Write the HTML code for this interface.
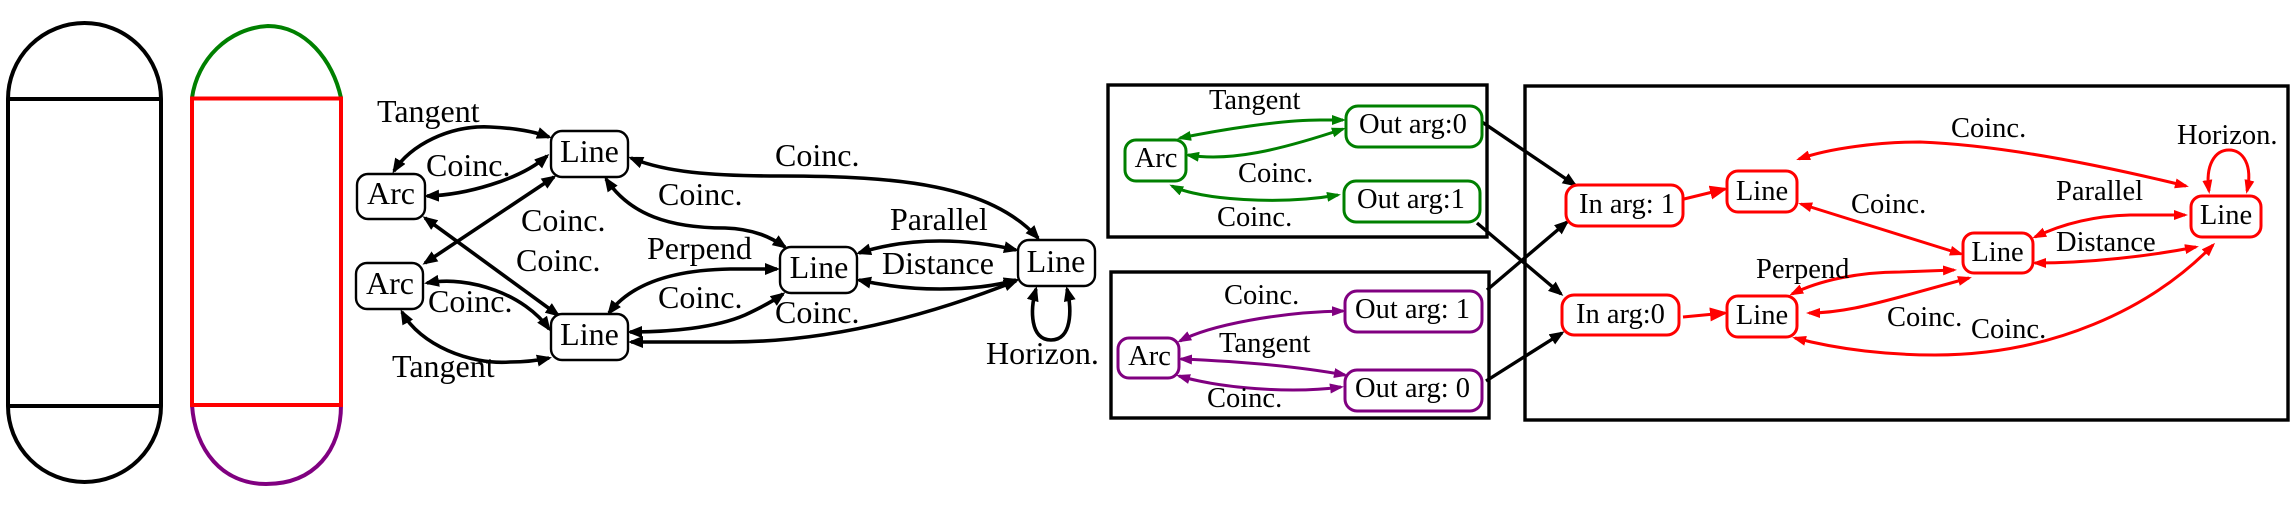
<!DOCTYPE html>
<html>
<head>
<meta charset="utf-8">
<style>
html,body{margin:0;padding:0;background:#fff;width:2292px;height:506px;overflow:hidden}
svg{display:block;filter:blur(.35px)}
text{font-family:"Liberation Serif",serif;fill:#000}
.a{font-size:32px}
.b{font-size:28.5px}
.m{text-anchor:middle}
.e{fill:none;stroke-width:3.6}
.f{fill:none;stroke-width:3}
</style>
</head>
<body>
<svg width="2292" height="506" viewBox="0 0 2292 506" xmlns="http://www.w3.org/2000/svg">
<defs>
<marker id="k" markerUnits="userSpaceOnUse" markerWidth="18" markerHeight="14" refX="12" refY="6" orient="auto-start-reverse"><path d="M0,0L15,6L0,12z" fill="#000"/></marker>
<marker id="g" markerUnits="userSpaceOnUse" markerWidth="18" markerHeight="14" refX="11" refY="5" orient="auto-start-reverse"><path d="M0,0L14,5L0,10z" fill="#008000"/></marker>
<marker id="p" markerUnits="userSpaceOnUse" markerWidth="18" markerHeight="14" refX="11" refY="5" orient="auto-start-reverse"><path d="M0,0L14,5L0,10z" fill="#800080"/></marker>
<marker id="r" markerUnits="userSpaceOnUse" markerWidth="18" markerHeight="14" refX="11" refY="5" orient="auto-start-reverse"><path d="M0,0L14,5L0,10z" fill="#f00"/></marker>
<marker id="R" markerUnits="userSpaceOnUse" markerWidth="22" markerHeight="16" refX="15" refY="7" orient="auto-start-reverse"><path d="M0,0L18,7L0,14z" fill="#f00"/></marker>
</defs>

<!-- capsules -->
<g fill="none" stroke="#000" stroke-width="4">
<path d="M8,99A76.5,76 0 0 1 161,99V406A76.5,76 0 0 1 8,406Z"/>
<path d="M8,99H161M8,406H161"/>
</g>
<path d="M192,98C197,60 228,28 268,26C305,26 333,60 341,98" fill="none" stroke="#008000" stroke-width="4"/>
<path d="M192,405C195,450 222,484 266,484C315,484 341,450 341,405" fill="none" stroke="#800080" stroke-width="4"/>
<rect x="192" y="98.5" width="149" height="306.5" fill="none" stroke="#f00" stroke-width="4"/>

<!-- left graph edges -->
<g stroke="#000">
<path class="e" d="M394,171C410,145 450,125 490,127C515,128 535,132 549,137" marker-start="url(#k)" marker-end="url(#k)"/>
<path class="e" d="M427,196C465,195 520,180 547,156" marker-start="url(#k)" marker-end="url(#k)"/>
<path class="e" d="M554,177L425,263" marker-start="url(#k)" marker-end="url(#k)"/>
<path class="e" d="M425,218L558,315" marker-start="url(#k)" marker-end="url(#k)"/>
<path class="e" d="M427,283C470,275 525,295 549,329" marker-start="url(#k)" marker-end="url(#k)"/>
<path class="e" d="M402,312C420,345 470,365 510,362C525,362 540,360 549,358" marker-start="url(#k)" marker-end="url(#k)"/>
<path class="e" d="M631,158C665,172 710,176 780,176C900,176 990,185 1038,238" marker-start="url(#k)" marker-end="url(#k)"/>
<path class="e" d="M606,179C630,215 670,228 725,228C755,229 772,238 785,247" marker-start="url(#k)" marker-end="url(#k)"/>
<path class="e" d="M609,313C630,285 670,270 730,269L777,269" marker-start="url(#k)" marker-end="url(#k)"/>
<path class="e" d="M630,332C670,332 715,328 745,315C760,308 772,302 783,294" marker-start="url(#k)" marker-end="url(#k)"/>
<path class="e" d="M631,342L730,342C830,342 930,315 1016,281" marker-start="url(#k)" marker-end="url(#k)"/>
<path class="e" d="M859,253C890,243 920,241 940,241C970,241 995,245 1016,250" marker-start="url(#k)" marker-end="url(#k)"/>
<path class="e" d="M859,280C890,287 915,289 940,289C970,289 995,286 1016,280" marker-start="url(#k)" marker-end="url(#k)"/>
<path class="e" d="M1036,289C1030,310 1030,340 1051,340C1072,340 1072,310 1067,289" marker-start="url(#k)" marker-end="url(#k)"/>
</g>

<!-- left graph nodes -->
<g fill="#fff" stroke="#000" stroke-width="2.4">
<rect x="357" y="174" width="68" height="45" rx="11"/>
<rect x="356" y="263" width="67" height="46" rx="11"/>
<rect x="551" y="131" width="77" height="46" rx="11"/>
<rect x="551" y="314" width="77" height="46" rx="11"/>
<rect x="780" y="247" width="77" height="46" rx="11"/>
<rect x="1018" y="240" width="77" height="46" rx="11"/>
</g>
<g class="a">
<text class="a m" x="391" y="204">Arc</text>
<text class="a m" x="390" y="294">Arc</text>
<text class="a m" x="589.5" y="162">Line</text>
<text class="a m" x="589.5" y="345">Line</text>
<text class="a m" x="819" y="278">Line</text>
<text class="a m" x="1056" y="272">Line</text>
<text class="a" x="377" y="122">Tangent</text>
<text class="a" x="426" y="176">Coinc.</text>
<text class="a" x="521" y="231">Coinc.</text>
<text class="a" x="516" y="271">Coinc.</text>
<text class="a" x="428" y="312">Coinc.</text>
<text class="a" x="392" y="377">Tangent</text>
<text class="a" x="658" y="205">Coinc.</text>
<text class="a" x="647" y="259">Perpend</text>
<text class="a" x="658" y="308">Coinc.</text>
<text class="a" x="775" y="166">Coinc.</text>
<text class="a" x="890" y="230">Parallel</text>
<text class="a" x="882" y="274">Distance</text>
<text class="a" x="775" y="323">Coinc.</text>
<text class="a" x="986" y="364">Horizon.</text>
</g>

<!-- boxes -->
<g fill="none" stroke="#000" stroke-width="3.4">
<rect x="1108" y="85" width="379" height="152"/>
<rect x="1111" y="272" width="378" height="146"/>
<rect x="1525" y="86" width="763" height="334"/>
</g>

<!-- black connectors -->
<g fill="none" stroke="#000" stroke-width="3.4">
<path d="M1482,122L1575,185" marker-end="url(#k)"/>
<path d="M1477,223L1561,294" marker-end="url(#k)"/>
<path d="M1487,290L1567,222" marker-end="url(#k)"/>
<path d="M1486,381L1562,333" marker-end="url(#k)"/>
</g>

<!-- green -->
<path class="f" stroke="#008000" d="M1180,138C1220,130 1280,120 1320,120L1343,120" marker-start="url(#g)" marker-end="url(#g)"/>
<path class="f" stroke="#008000" d="M1188,155C1230,162 1280,150 1343,129" marker-start="url(#g)" marker-end="url(#g)"/>
<path class="f" stroke="#008000" d="M1172,186C1200,200 1280,205 1338,195" marker-start="url(#g)" marker-end="url(#g)"/>
<g fill="#fff" stroke="#008000" stroke-width="3">
<rect x="1125" y="140" width="61" height="41" rx="11"/>
<rect x="1346" y="106" width="136" height="41" rx="12"/>
<rect x="1344" y="181" width="136" height="41" rx="12"/>
</g>
<text class="b m" x="1156" y="167">Arc</text>
<text class="b" x="1359" y="133">Out arg:0</text>
<text class="b" x="1357" y="208">Out arg:1</text>
<text class="b" x="1209" y="109">Tangent</text>
<text class="b" x="1238" y="182">Coinc.</text>
<text class="b" x="1217" y="226">Coinc.</text>

<!-- purple -->
<path class="f" stroke="#800080" d="M1180,341C1210,325 1280,312 1343,311" marker-start="url(#p)" marker-end="url(#p)"/>
<path class="f" stroke="#800080" d="M1181,359C1230,361 1290,365 1345,375" marker-start="url(#p)" marker-end="url(#p)"/>
<path class="f" stroke="#800080" d="M1179,376C1220,388 1290,394 1341,387" marker-start="url(#p)" marker-end="url(#p)"/>
<g fill="#fff" stroke="#800080" stroke-width="3">
<rect x="1118" y="338" width="61" height="40" rx="11"/>
<rect x="1345" y="291" width="137" height="41" rx="12"/>
<rect x="1345" y="370" width="137" height="41" rx="12"/>
</g>
<text class="b m" x="1149.5" y="365">Arc</text>
<text class="b" x="1355" y="318">Out arg: 1</text>
<text class="b" x="1355" y="397">Out arg: 0</text>
<text class="b" x="1224" y="304">Coinc.</text>
<text class="b" x="1219" y="352">Tangent</text>
<text class="b" x="1207" y="407">Coinc.</text>

<!-- red -->
<path class="f" stroke="#f00" d="M1684,199L1725,189" marker-end="url(#R)"/>
<path class="f" stroke="#f00" d="M1683,317L1725,313" marker-end="url(#R)"/>
<path class="f" stroke="#f00" d="M1799,159C1830,148 1880,142 1920,142C2000,145 2100,165 2186,186" marker-start="url(#r)" marker-end="url(#r)"/>
<path class="f" stroke="#f00" d="M1801,204L1961,254" marker-start="url(#r)" marker-end="url(#r)"/>
<path class="f" stroke="#f00" d="M1792,294C1820,280 1860,272 1900,272L1954,270" marker-start="url(#r)" marker-end="url(#r)"/>
<path class="f" stroke="#f00" d="M1809,313C1840,313 1870,305 1900,297L1969,278" marker-start="url(#r)" marker-end="url(#r)"/>
<path class="f" stroke="#f00" d="M1795,338C1840,350 1890,355 1935,355C2050,355 2150,310 2213,245" marker-start="url(#r)" marker-end="url(#r)"/>
<path class="f" stroke="#f00" d="M2035,237C2060,225 2090,216 2130,215L2185,215" marker-start="url(#r)" marker-end="url(#r)"/>
<path class="f" stroke="#f00" d="M2035,263C2090,263 2150,256 2196,247" marker-start="url(#r)" marker-end="url(#r)"/>
<path class="f" stroke="#f00" d="M2209,191C2205,165 2215,150 2229,150C2243,150 2253,165 2247,191" marker-start="url(#r)" marker-end="url(#r)"/>
<g fill="#fff" stroke="#f00" stroke-width="3">
<rect x="1566" y="185" width="117" height="41" rx="12"/>
<rect x="1562" y="295" width="117" height="40" rx="12"/>
<rect x="1727" y="171" width="70" height="41" rx="11"/>
<rect x="1727" y="296" width="70" height="41" rx="11"/>
<rect x="1963" y="233" width="70" height="40" rx="11"/>
<rect x="2191" y="196" width="70" height="41" rx="11"/>
</g>
<text class="b" x="1579" y="213">In arg: 1</text>
<text class="b" x="1576" y="323">In arg:0</text>
<text class="b m" x="1762" y="200">Line</text>
<text class="b m" x="1762" y="324">Line</text>
<text class="b m" x="1997.5" y="261">Line</text>
<text class="b m" x="2226" y="224">Line</text>
<text class="b" x="1756" y="278">Perpend</text>
<text class="b" x="1851" y="213">Coinc.</text>
<text class="b" x="1951" y="137">Coinc.</text>
<text class="b" x="2177" y="144">Horizon.</text>
<text class="b" x="2056" y="200">Parallel</text>
<text class="b" x="2056" y="251">Distance</text>
<text class="b" x="1887" y="326">Coinc.</text>
<text class="b" x="1971" y="338">Coinc.</text>
</svg>
</body>
</html>
